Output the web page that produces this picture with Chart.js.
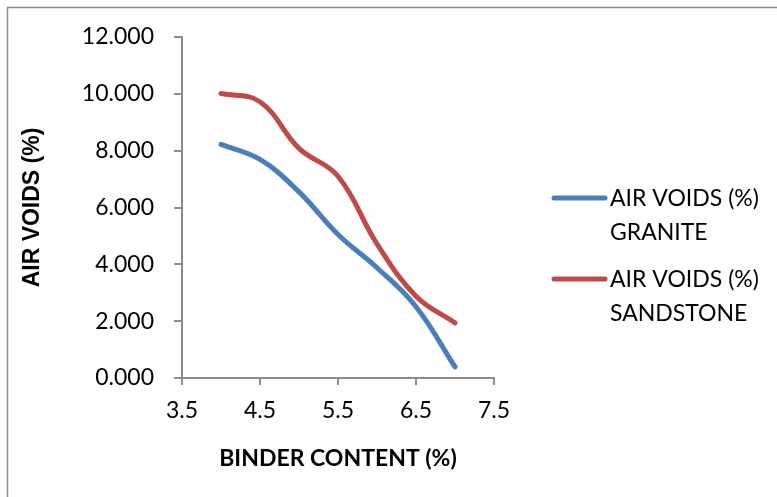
<!DOCTYPE html>
<html>
<head>
<meta charset="utf-8">
<script src="https://cdn.jsdelivr.net/npm/chart.js@4.4.0/dist/chart.umd.min.js"></script>
<style>
  html, body { margin: 0; padding: 0; background: #ffffff; }
  #wrap { position: relative; width: 777px; height: 497px; }
</style>
</head>
<body>
<div id="wrap"><canvas id="chart" width="777" height="497"></canvas></div>
<script>
// Binder content (%) and measured air voids (%) for each aggregate
const binderContent = [4.0, 4.5, 5.0, 5.5, 6.0, 6.5, 7.0];
const airVoidsGranite = [8.22, 7.69, 6.55, 5.05, 3.88, 2.51, 0.39];
const airVoidsSandstone = [10.01, 9.72, 8.08, 7.10, 4.72, 2.88, 1.94];

const seriesNames = [["AIR VOIDS (%)", "GRANITE"], ["AIR VOIDS (%)", "SANDSTONE"]];
const xTitle = "BINDER CONTENT (%)";
const yTitle = "AIR VOIDS (%)";

const BLUE = "#4a7ebb";
const RED = "#be4b48";
const AXIS = "#8c8c8c";
const TICK_FONT = { family: "Lato", size: 23 };

const toPoints = (ys) => binderContent.map((x, i) => ({ x: x, y: ys[i] }));

// Outer frame of the chart object
const framePlugin = {
  id: "frame",
  beforeDraw(chart) {
    const ctx = chart.ctx;
    ctx.save();
    ctx.fillStyle = "#ffffff";
    ctx.fillRect(0, 0, chart.width, chart.height);
    ctx.strokeStyle = "#8a8a8a";
    ctx.lineWidth = 1.5;
    ctx.strokeRect(7.5, 7.5, chart.width + 20, chart.height + 20);
    ctx.restore();
  }
};

// Legend on the right with two-line labels
const sideLegend = {
  id: "sideLegend",
  afterDraw(chart) {
    const ctx = chart.ctx;
    const rows = [{ y: 198 }, { y: 279 }];
    ctx.save();
    chart.data.datasets.forEach((ds, i) => {
      const y = rows[i].y;
      ctx.strokeStyle = ds.borderColor;
      ctx.lineWidth = 5;
      ctx.lineCap = "round";
      ctx.beginPath();
      ctx.moveTo(554, y);
      ctx.lineTo(605, y);
      ctx.stroke();
      ctx.fillStyle = "#000000";
      ctx.font = "23px Lato";
      ctx.textBaseline = "middle";
      ctx.textAlign = "left";
      seriesNames[i].forEach((line, j) => {
        ctx.fillText(line, 610, y + 1 + j * 34);
      });
    });
    ctx.restore();
  }
};

new Chart(document.getElementById("chart"), {
  type: "scatter",
  data: {
    datasets: [
      {
        label: seriesNames[0].join(" "),
        data: toPoints(airVoidsGranite),
        showLine: true,
        borderColor: BLUE,
        backgroundColor: BLUE,
        borderWidth: 5,
        borderCapStyle: "round",
        borderJoinStyle: "round",
        pointRadius: 0,
        tension: 0.4
      },
      {
        label: seriesNames[1].join(" "),
        data: toPoints(airVoidsSandstone),
        showLine: true,
        borderColor: RED,
        backgroundColor: RED,
        borderWidth: 5,
        borderCapStyle: "round",
        borderJoinStyle: "round",
        pointRadius: 0,
        tension: 0.4
      }
    ]
  },
  options: {
    responsive: false,
    animation: false,
    layout: { padding: { left: 0, right: 283, top: 37, bottom: 0 } },
    plugins: {
      legend: { display: false },
      tooltip: { enabled: false }
    },
    scales: {
      x: {
        type: "linear",
        min: 3.5,
        max: 7.5,
        afterFit(scale) { scale.height = 119; },
        ticks: {
          stepSize: 1,
          color: "#000000",
          font: TICK_FONT,
          padding: 12,
          callback: (v) => v.toFixed(1)
        },
        grid: { drawOnChartArea: false, drawTicks: true, tickLength: 7, color: AXIS, lineWidth: 2 },
        border: { display: true, color: AXIS, width: 2 },
        title: {
          display: true,
          text: xTitle,
          color: "#000000",
          font: { family: "Lato", size: 23, weight: "bold" },
          padding: { top: 0, bottom: 25 }
        }
      },
      y: {
        min: 0,
        max: 12,
        afterFit(scale) { scale.width = 182; },
        ticks: {
          stepSize: 2,
          color: "#000000",
          font: TICK_FONT,
          padding: 20,
          callback: (v) => v.toFixed(3)
        },
        grid: { drawOnChartArea: false, drawTicks: true, tickLength: 8, color: AXIS, lineWidth: 2 },
        border: { display: true, color: AXIS, width: 2 },
        title: {
          display: true,
          text: yTitle,
          color: "#000000",
          font: { family: "Liberation Sans", size: 23, weight: "bold" },
          padding: { top: 19, bottom: 0 }
        }
      }
    }
  },
  plugins: [framePlugin, sideLegend]
});
</script>
</body>
</html>
